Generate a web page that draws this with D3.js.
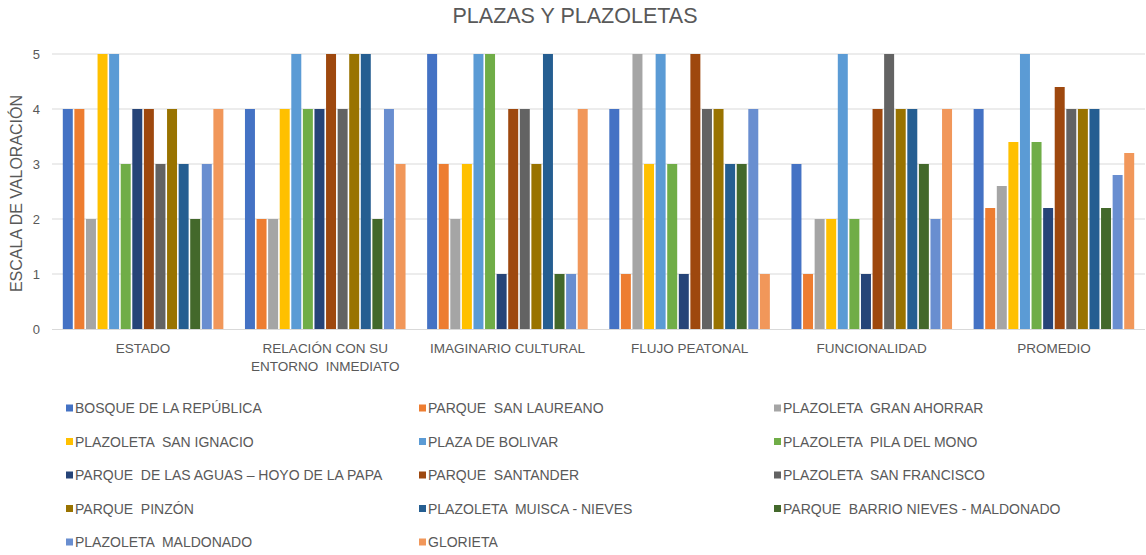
<!DOCTYPE html>
<html>
<head>
<meta charset="utf-8">
<script src="https://cdn.jsdelivr.net/npm/d3@7"></script>
<style>
  html, body { margin: 0; padding: 0; background: #fff; }
  svg { display: block; font-family: "Liberation Sans", Arial, sans-serif; }
</style>
</head>
<body>
<svg id="chart" width="1146" height="555"></svg>
<script>
// Evaluation criteria (x-axis groups)
const categories = [
  ["ESTADO"],
  ["RELACIÓN CON SU", "ENTORNO  INMEDIATO"],
  ["IMAGINARIO CULTURAL"],
  ["FLUJO PEATONAL"],
  ["FUNCIONALIDAD"],
  ["PROMEDIO"]
];

// Places evaluated (one series each)
const seriesNames = [
  "BOSQUE DE LA REPÚBLICA",
  "PARQUE  SAN LAUREANO",
  "PLAZOLETA  GRAN AHORRAR",
  "PLAZOLETA  SAN IGNACIO",
  "PLAZA DE BOLIVAR",
  "PLAZOLETA  PILA DEL MONO",
  "PARQUE  DE LAS AGUAS – HOYO DE LA PAPA",
  "PARQUE  SANTANDER",
  "PLAZOLETA  SAN FRANCISCO",
  "PARQUE  PINZÓN",
  "PLAZOLETA  MUISCA - NIEVES",
  "PARQUE  BARRIO NIEVES - MALDONADO",
  "PLAZOLETA  MALDONADO",
  "GLORIETA"
];

const seriesColors = [
  "#4472C4", "#ED7D31", "#A5A5A5", "#FFC000", "#5B9BD5", "#70AD47", "#264478",
  "#9E480E", "#636363", "#997300", "#255E91", "#43682B", "#698ED0", "#F1975A"
];

// Scores per criterion, in series order
const estado        = [4, 4, 2, 5, 5, 3, 4, 4, 3, 4, 3, 2, 3, 4];
const relacion      = [4, 2, 2, 4, 5, 4, 4, 5, 4, 5, 5, 2, 4, 3];
const imaginario    = [5, 3, 2, 3, 5, 5, 1, 4, 4, 3, 5, 1, 1, 4];
const flujo         = [4, 1, 5, 3, 5, 3, 1, 5, 4, 4, 3, 3, 4, 1];
const funcionalidad = [3, 1, 2, 2, 5, 2, 1, 4, 5, 4, 4, 3, 2, 4];
const promedio      = [4, 2.2, 2.6, 3.4, 5, 3.4, 2.2, 4.4, 4, 4, 4, 2.2, 2.8, 3.2];

const yTicks = [0, 1, 2, 3, 4, 5];

const groups = [estado, relacion, imaginario, flujo, funcionalidad, promedio];

const svg = d3.select("#chart");
const textColor = "#595959";

const plot = { left: 52, right: 1145, top: 54, bottom: 329 };

const x0 = d3.scaleBand()
  .domain(d3.range(categories.length))
  .range([plot.left, plot.right])
  .padding(0);

const x1 = d3.scaleBand()
  .domain(d3.range(seriesNames.length))
  .range([10, x0.bandwidth() - 10])
  .padding(0);

const y = d3.scaleLinear().domain([0, 5]).range([plot.bottom, plot.top]);

// Title
svg.append("text")
  .attr("x", 575).attr("y", 23)
  .attr("text-anchor", "middle")
  .attr("fill", textColor)
  .attr("font-size", 21.5)
  .text("PLAZAS Y PLAZOLETAS");

// Gridlines
svg.append("g")
  .selectAll("line")
  .data(yTicks.filter(d => d > 0))
  .join("line")
  .attr("x1", plot.left).attr("x2", plot.right)
  .attr("y1", d => y(d)).attr("y2", d => y(d))
  .attr("stroke", "#D9D9D9").attr("stroke-width", 1);

// Y axis tick labels
const yAxis = d3.axisLeft(y).tickValues(yTicks).tickSize(0).tickPadding(0).tickFormat(d3.format("d"));
const yg = svg.append("g").attr("transform", `translate(${plot.left - 12},0)`).call(yAxis);
yg.select(".domain").remove();
yg.selectAll("text")
  .attr("fill", textColor)
  .attr("font-size", 13)
  .attr("font-family", "Liberation Sans, Arial, sans-serif");

// Y axis title
svg.append("text")
  .attr("transform", `translate(22,${(plot.top + plot.bottom) / 2 + 2}) rotate(-90)`)
  .attr("text-anchor", "middle")
  .attr("fill", textColor)
  .attr("font-size", 16)
  .text("ESCALA DE VALORACIÓN");

// Bars
const barG = svg.append("g");
groups.forEach((vals, ci) => {
  barG.append("g")
    .attr("transform", `translate(${x0(ci)},0)`)
    .selectAll("rect")
    .data(vals)
    .join("rect")
    .attr("x", (d, i) => x1(i) + 0.8)
    .attr("width", x1.bandwidth() - 1.6)
    .attr("y", d => y(d))
    .attr("height", d => y(0) - y(d))
    .attr("fill", (d, i) => seriesColors[i]);
});

// Baseline
svg.append("line")
  .attr("x1", plot.left).attr("x2", plot.right)
  .attr("y1", y(0) + 0.5).attr("y2", y(0) + 0.5)
  .attr("stroke", "#D9D9D9").attr("stroke-width", 1);

// Category labels
const xLab = svg.append("g");
categories.forEach((lines, ci) => {
  const t = xLab.append("text")
    .attr("x", x0(ci) + x0.bandwidth() / 2)
    .attr("y", 353)
    .attr("text-anchor", "middle")
    .attr("fill", textColor)
    .attr("font-size", 13.5)
    .style("white-space", "pre");
  lines.forEach((ln, li) => {
    t.append("tspan")
      .attr("x", x0(ci) + x0.bandwidth() / 2)
      .attr("dy", li === 0 ? 0 : 18)
      .text(ln);
  });
});

// Legend (3 columns)
const legendCols = [66, 419, 774];
const legendRows = [408, 441.5, 475, 508.5, 542];
const legend = svg.append("g");
seriesNames.forEach((name, i) => {
  const cx = legendCols[i % 3];
  const cy = legendRows[Math.floor(i / 3)];
  const g = legend.append("g");
  g.append("rect")
    .attr("x", cx).attr("y", cy - 3.5)
    .attr("width", 7).attr("height", 7)
    .attr("fill", seriesColors[i]);
  g.append("text")
    .attr("x", cx + 9).attr("y", cy + 5)
    .attr("fill", textColor)
    .attr("font-size", 14)
    .style("white-space", "pre")
    .text(name);
});
</script>
</body>
</html>
